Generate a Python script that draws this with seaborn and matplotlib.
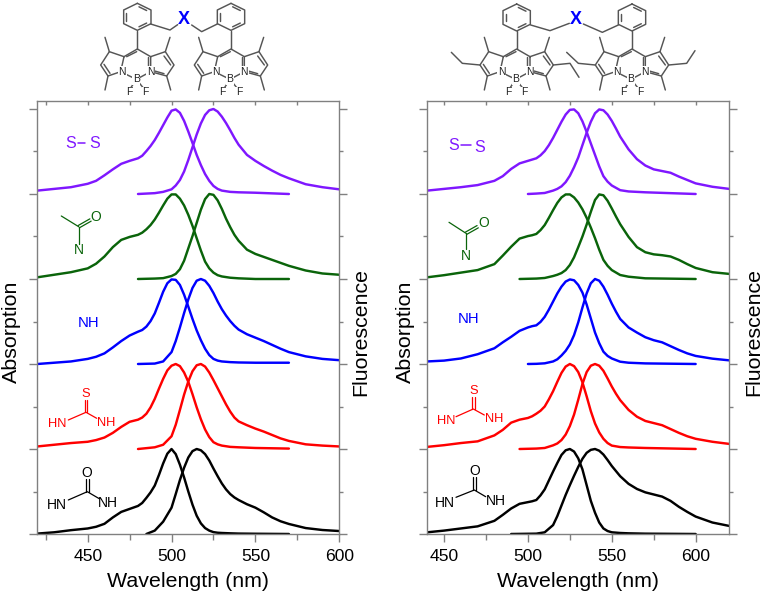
import matplotlib
matplotlib.use("Agg")
import matplotlib.pyplot as plt
import numpy as np
import pandas as pd
import seaborn as sns

sns.set_style("white")
plt.rcParams["font.family"] = ["Liberation Sans", "DejaVu Sans"]
plt.rcParams["text.color"] = "black"
plt.rcParams["axes.labelcolor"] = "black"
plt.rcParams["xtick.labelcolor"] = "black"

# ---------- data: left panel ----------
L_ABS_NM = [420,430,440,450,455,460,465,470,475,480,482.5,485,487.5,490,492.5,495,497.5,500,502.5,505,507.5,510,512.5,515,517.5,520,522.5,525,527.5,530,535,540,550,570]
L_FL_NM = [490,495,500,502.5,505,507.5,510,512.5,515,517.5,520,522.5,525,527.5,530,532.5,535,537.5,540,545,550,555,560,565,570,580,590,600]

L_SS_ABS = [.04,.06,.08,.12,.155,.22,.29,.355,.39,.42,.45,.505,.565,.635,.72,.81,.90,.98,.995,.955,.86,.735,.60,.46,.34,.235,.155,.095,.06,.04,.025,.02,.015,0]
L_AM_ABS = [.02,.05,.08,.125,.18,.265,.375,.46,.495,.52,.545,.585,.635,.70,.78,.865,.945,.995,.995,.945,.865,.755,.625,.48,.335,.205,.125,.075,.045,.03,.015,.008,0,0]
L_NH_ABS = [0,.015,.03,.06,.085,.125,.195,.27,.335,.38,.40,.44,.505,.595,.72,.85,.95,.995,.99,.93,.815,.675,.53,.395,.28,.18,.105,.06,.04,.03,.022,.018,.015,.015]
L_TU_ABS = [.03,.05,.07,.085,.105,.135,.19,.26,.32,.345,.37,.415,.49,.59,.71,.825,.925,.98,1,.975,.90,.79,.645,.49,.35,.23,.14,.08,.055,.04,.025,.02,.012,.005]
L_UR_ABS = [.005,.02,.045,.065,.085,.12,.195,.26,.295,.33,.365,.425,.49,.57,.695,.83,.945,1,.94,.815,.665,.50,.345,.215,.125,.07,.04,.022,.015,.012,.008,.005,.003,0]

L_SS_FL = [.01,.025,.055,.10,.165,.265,.40,.55,.70,.83,.93,.985,1,.97,.91,.835,.75,.66,.58,.46,.39,.33,.275,.225,.185,.115,.08,.055]
L_AM_FL = [.005,.01,.035,.06,.115,.215,.36,.505,.66,.815,.94,1,.99,.925,.825,.71,.61,.52,.45,.345,.295,.26,.225,.19,.155,.10,.065,.05]
L_NH_FL = [.005,.03,.14,.27,.43,.60,.76,.895,.98,1,.98,.92,.835,.735,.645,.57,.505,.45,.405,.35,.31,.27,.225,.18,.14,.09,.06,.045]
L_TU_FL = [.02,.05,.15,.285,.46,.64,.795,.915,.985,1,.97,.90,.81,.715,.62,.525,.44,.37,.325,.28,.24,.205,.165,.125,.095,.055,.04,.03]
L_UR_FL = [.04,.145,.31,.47,.635,.78,.90,.975,1,.985,.94,.865,.77,.68,.595,.525,.47,.43,.40,.35,.31,.255,.195,.15,.118,.07,.047,.035]
L_FL_START = [480, 480, 480, 480, 485]

# ---------- data: right panel ----------
R_ABS_NM = [440,450,460,470,480,485,490,495,500,502.5,505,507.5,510,512.5,515,517.5,520,522.5,525,527.5,530,532.5,535,537.5,540,542.5,545,547.5,550,555,560,570,600]
R_FL_NM = [505,510,515,517.5,520,522.5,525,527.5,530,532.5,535,537.5,540,542.5,545,547.5,550,552.5,555,560,565,570,575,580,585,590,595,600,610,620]

R_SS_ABS = [.04,.06,.08,.105,.155,.21,.295,.36,.39,.405,.42,.455,.505,.575,.66,.755,.85,.935,.99,.995,.95,.855,.73,.595,.46,.325,.21,.145,.10,.045,.03,.02,0]
R_AM_ABS = [.02,.045,.075,.105,.175,.275,.38,.475,.505,.515,.53,.575,.635,.72,.81,.895,.96,.995,.995,.96,.90,.82,.72,.605,.48,.345,.225,.155,.105,.047,.027,.008,0]
R_NH_ABS = [.03,.04,.065,.115,.185,.255,.32,.39,.43,.445,.455,.495,.555,.64,.735,.83,.91,.97,.995,.985,.93,.84,.70,.535,.37,.245,.145,.095,.065,.027,.015,.007,0]
R_TU_ABS = [.025,.045,.07,.09,.16,.225,.31,.345,.365,.385,.415,.45,.50,.585,.68,.79,.895,.97,1,.975,.905,.785,.62,.445,.30,.195,.12,.07,.04,.023,.018,.012,0]
R_UR_ABS = [.02,.04,.065,.09,.155,.225,.30,.355,.375,.385,.40,.455,.525,.63,.735,.835,.93,.985,1,.97,.89,.76,.575,.39,.25,.135,.065,.035,.02,.012,.008,.004,0]

R_SS_FL = [.005,.012,.04,.06,.09,.14,.215,.315,.43,.575,.72,.85,.95,.995,.985,.935,.86,.77,.675,.525,.41,.335,.29,.27,.25,.205,.165,.125,.085,.06]
R_AM_FL = [.005,.012,.035,.05,.07,.105,.165,.255,.375,.50,.64,.79,.93,.995,.985,.92,.83,.735,.645,.495,.375,.315,.29,.28,.265,.225,.175,.13,.08,.06]
R_NH_FL = [.002,.008,.03,.055,.10,.155,.23,.34,.49,.665,.83,.95,1,.98,.91,.815,.71,.615,.53,.43,.37,.315,.28,.255,.21,.165,.125,.095,.063,.043]
R_TU_FL = [.005,.012,.043,.065,.105,.17,.27,.405,.58,.765,.905,.98,1,.98,.92,.83,.735,.65,.575,.46,.38,.33,.305,.28,.235,.19,.15,.12,.085,.06]
R_UR_FL = [.004,.02,.105,.21,.335,.46,.575,.685,.79,.885,.955,.99,1,.98,.935,.87,.80,.74,.68,.59,.53,.49,.465,.44,.39,.32,.26,.205,.135,.095]
R_FL_START = [500, 495, 500, 495, 490]

OFFSETS = [4, 3, 2, 1, 0]
COLORS = ["#7F17FF", "#0A640A", "#0000FF", "#FF0000", "#000000"]
XTICKS = [450, 500, 550, 600]
X_LABEL = "Wavelength (nm)"
Y_LEFT = "Absorption"
Y_RIGHT = "Fluorescence"
W, H = 765, 596
GRAY = "#808080"
SKEL = "#555555"
LABEL_SIZE = 15.4

fig = plt.figure(figsize=(W / 100, H / 100), dpi=100)


def panel(px0, px1, xlim, abs_nm, abs_vals, fl_nm, fl_vals, fl_starts, abs_label_x, fl_label_x):
    top, bottom = 100.7, 534.0
    ax = fig.add_axes([px0 / W, 1 - bottom / H, (px1 - px0) / W, (bottom - top) / H])
    for off, col, av, fv, st in zip(OFFSETS, COLORS, abs_vals, fl_vals, fl_starts):
        df_a = pd.DataFrame({"nm": abs_nm, "y": np.asarray(av) + off})
        df_f = pd.DataFrame({"nm": [st] + list(fl_nm), "y": np.r_[0, fv] + off})
        for df in (df_a, df_f):
            sns.lineplot(data=df, x="nm", y="y", color=col, linewidth=1.75, ax=ax,
                         errorbar=None, sort=False, legend=False)
    ax.set_xlim(*xlim)
    ax.set_ylim(0, (bottom - top) / 85.0)
    for s in ax.spines.values():
        s.set_visible(True)
        s.set_color(GRAY)
        s.set_linewidth(1.0)
    ax.set_xticks(XTICKS)
    ax.set_xticks([v for v in range(425, 625, 25) if v not in XTICKS and xlim[0] < v < xlim[1]], minor=True)
    ax.set_yticks(range(6))
    ax.set_yticks(np.arange(0.5, 5, 1), minor=True)
    ax.tick_params(axis="x", which="major", direction="out", length=5.6, width=1, color=GRAY,
                   labelsize=12.6, pad=5.5, bottom=True, labelcolor="black")
    ax.tick_params(axis="x", which="minor", direction="out", length=4.2, width=1, color=GRAY, bottom=True)
    ax.tick_params(axis="y", which="major", direction="out", length=5.8, width=1, color=GRAY,
                   left=True, right=True, labelleft=False)
    ax.tick_params(axis="y", which="minor", direction="out", length=3.0, width=1, color=GRAY,
                   left=True, right=True, labelleft=False)
    sec = ax.secondary_xaxis("top")
    sec.set_xticks([v for v in range(425, 625, 25) if xlim[0] < v < xlim[1]])
    sec.tick_params(axis="x", direction="in", length=2.8, width=1, color=GRAY, labeltop=False)
    sec.spines["top"].set_visible(False)
    ax.set_xlabel(X_LABEL, fontsize=LABEL_SIZE, va="center")
    ax.set_ylabel(Y_LEFT, fontsize=LABEL_SIZE, va="center")
    tr = fig.transFigure
    ax.xaxis.set_label_coords((px0 + px1) / 2 / W, 1 - 581.5 / H, transform=tr)
    ax.yaxis.set_label_coords(abs_label_x / W, 1 - 331.5 / H, transform=tr)
    fig.text(fl_label_x / W, 1 - 331.5 / H, Y_RIGHT, rotation=90, fontsize=LABEL_SIZE, ha="center", va="center")
    return ax


panel(37.4, 339.2, (420, 600), L_ABS_NM,
      [L_SS_ABS, L_AM_ABS, L_NH_ABS, L_TU_ABS, L_UR_ABS], L_FL_NM,
      [L_SS_FL, L_AM_FL, L_NH_FL, L_TU_FL, L_UR_FL], L_FL_START, 11.5, 361)
panel(427.3, 729.2, (440, 620), R_ABS_NM,
      [R_SS_ABS, R_AM_ABS, R_NH_ABS, R_TU_ABS, R_UR_ABS], R_FL_NM,
      [R_SS_FL, R_AM_FL, R_NH_FL, R_TU_FL, R_UR_FL], R_FL_START, 405, 754)

# ---------- decorative drawing layer, in pixels ----------
ov = fig.add_axes([0, 0, 1, 1], facecolor="none")
ov.set_xlim(0, W)
ov.set_ylim(H, 0)
ov.axis("off")


def seg(pts, color=SKEL, lw=1.05):
    xs, ys = zip(*pts)
    ov.plot(xs, ys, color=color, lw=lw, solid_capstyle="round", solid_joinstyle="round")


def atom(x, y, s, color="#222222", size=7.5, weight="normal"):
    ov.text(x, y, s, color=color, fontsize=size, fontweight=weight, ha="center", va="center",
            bbox=dict(facecolor="white", edgecolor="none", pad=0.4), zorder=5)


def label(x, y, s, color, size=10.7):
    ov.text(x, y, s, color=color, fontsize=size, ha="center", va="center", zorder=5)


def dbl(p, q, color, gap=1.3, lw=0.9):
    p, q = np.array(p, float), np.array(q, float)
    d = q - p
    n = np.array([-d[1], d[0]]) / np.hypot(*d) * gap
    seg([p + n, q + n], color, lw)
    seg([p - n, q - n], color, lw)


def ring(ox, oy, cx, cy):
    pts = [(0, -40), (41, -20), (41, 21), (0, 41), (-41, 21), (-41, -20), (0, -40)]
    P = [(ox + (cx + a) / 3, oy + (cy + b) / 3) for a, b in pts]
    seg(P)
    for i in (0, 2, 4):
        a, b = np.array(P[i]), np.array(P[i + 1])
        c = np.array((ox + cx / 3, oy + cy / 3))
        seg([a + (c - a) * .2 + (b - a) * .12, b + (c - b) * .2 - (b - a) * .12])


def bodipy(ox, m, ethyl_l=None, ethyl_r=None):
    z = lambda a, b: (ox + (m + a) / 3, b / 3)
    seg([z(0, 93), z(0, 147)])
    seg([z(-40, 170), z(0, 147), z(40, 170)])
    seg([z(-40, 170), z(-84, 155), z(-110, 195), z(-88, 228), z(-50, 215), z(-40, 170)])
    seg([z(40, 170), z(84, 155), z(110, 195), z(88, 228), z(40, 215), z(40, 170)])
    seg([z(-50, 215), z(-3, 238), z(40, 215)])
    seg([z(-3, 238), z(-24, 270)])
    seg([z(-3, 238), z(23, 270)])
    seg([z(-84, 155), z(-97, 112)])
    seg([z(-88, 228), z(-97, 270)])
    seg([z(84, 155), z(98, 112)])
    seg([z(88, 228), z(100, 270)])
    # inner double bonds
    seg([z(-100, 193), z(-82, 220)])
    seg([z(80, 168), z(100, 195)])
    seg([z(52, 213), z(80, 221)])
    seg([z(-32, 170), z(-2, 155)])
    seg([z(32, 172), z(32, 208)])
    if ethyl_l:
        seg([z(*p) for p in ethyl_l])
    if ethyl_r:
        seg([z(*p) for p in ethyl_r])
    atom(*z(-45, 215), "N")
    atom(*z(40, 215), "N")
    atom(*z(-3, 238), "B")
    atom(*z(-25, 277), "F")
    atom(*z(24, 277), "F")


# left structure
ring(80, 0, 172, 50)
ring(80, 0, 453, 50)
seg([(80 + 212 / 3, 72 / 3), (80 + 270 / 3, 90 / 3), (80 + 293 / 3, 74 / 3)])
seg([(80 + 335 / 3, 75 / 3), (80 + 365 / 3, 95 / 3), (80 + 412 / 3, 72 / 3)])
bodipy(80, 172)
bodipy(80, 453)
ov.text(80 + 312 / 3, 60 / 3, "X", color="#0000FF", fontsize=13, fontweight="bold", ha="center", va="center", zorder=5)

# right structure
ring(460, 0, 170, 52)
ring(460, 0, 516, 52)
seg([(460 + 212 / 3, 75 / 3), (460 + 270 / 3, 92 / 3), (460 + 328 / 3, 70 / 3)])
seg([(460 + 370 / 3, 72 / 3), (460 + 427 / 3, 97 / 3), (460 + 475 / 3, 75 / 3)])
bodipy(460, 170, [(-110, 195), (-163, 190), (-196, 157)], [(110, 195), (160, 190), (187, 232)])
bodipy(460, 516, [(-110, 195), (-161, 190), (-196, 157)], [(110, 195), (164, 190), (189, 152)])
ov.text(460 + 349 / 3, 60 / 3, "X", color="#0000FF", fontsize=13, fontweight="bold", ha="center", va="center", zorder=5)

# substituent labels, left panel
P, G, B, R, K = COLORS
label(71, 143.5, "S", P, 11.5)
seg([(78, 143), (85, 143)], P, 1.1)
label(95, 144, "S", P, 11.5)
seg([(61.3, 216), (78.7, 226.7)], G, 0.9)
dbl((78.7, 226.7), (90.5, 220), G)
seg([(78.7, 226.7), (78.7, 244)], G, 0.9)
label(95.7, 216.7, "O", G, 10)
label(78.7, 250.5, "N", G, 10)
label(88.3, 322.7, "NH", B)
label(86, 394.3, "S", R, 9.3)
dbl((86, 400), (86, 411.7), R)
seg([(68.3, 420), (86, 412.3), (96.7, 418.3)], R, 0.9)
label(57.3, 424.3, "HN", R, 9.3)
label(106, 422.7, "NH", R, 9.3)
label(86.7, 473.3, "O", K, 10)
dbl((87.3, 479.3), (87.3, 491.7), K)
seg([(68.3, 500), (87.3, 491.7), (99.3, 498.7)], K, 0.9)
label(57.3, 505, "HN", K, 10)
label(108.3, 503.3, "NH", K, 10)

# substituent labels, right panel
label(453.3, 146, "S", P, 11.5)
seg([(461, 145.3), (471, 145.3)], P, 1.1)
label(479.3, 147, "S", P, 11.5)
seg([(449, 222.3), (466, 233.3)], G, 0.9)
dbl((466, 233.3), (477.7, 226.7), G)
seg([(466, 233.3), (466, 249.3)], G, 0.9)
label(483.3, 223.3, "O", G, 10)
label(466, 256, "N", G, 10)
label(468.3, 319.3, "NH", B)
label(473.3, 391, "S", R, 9.3)
dbl((473.3, 396.7), (473.3, 409), R)
seg([(456, 416.7), (473.3, 409), (484.3, 415)], R, 0.9)
label(445.7, 421, "HN", R, 9.3)
label(494, 419.3, "NH", R, 9.3)
label(474.3, 471, "O", K, 10)
dbl((474.3, 476.7), (474.3, 490), K)
seg([(456, 497.3), (474.3, 490), (485.7, 496.7)], K, 0.9)
label(445, 503.3, "HN", K, 10)
label(495.7, 501, "NH", K, 10)

fig.savefig("out.png", dpi=100)
